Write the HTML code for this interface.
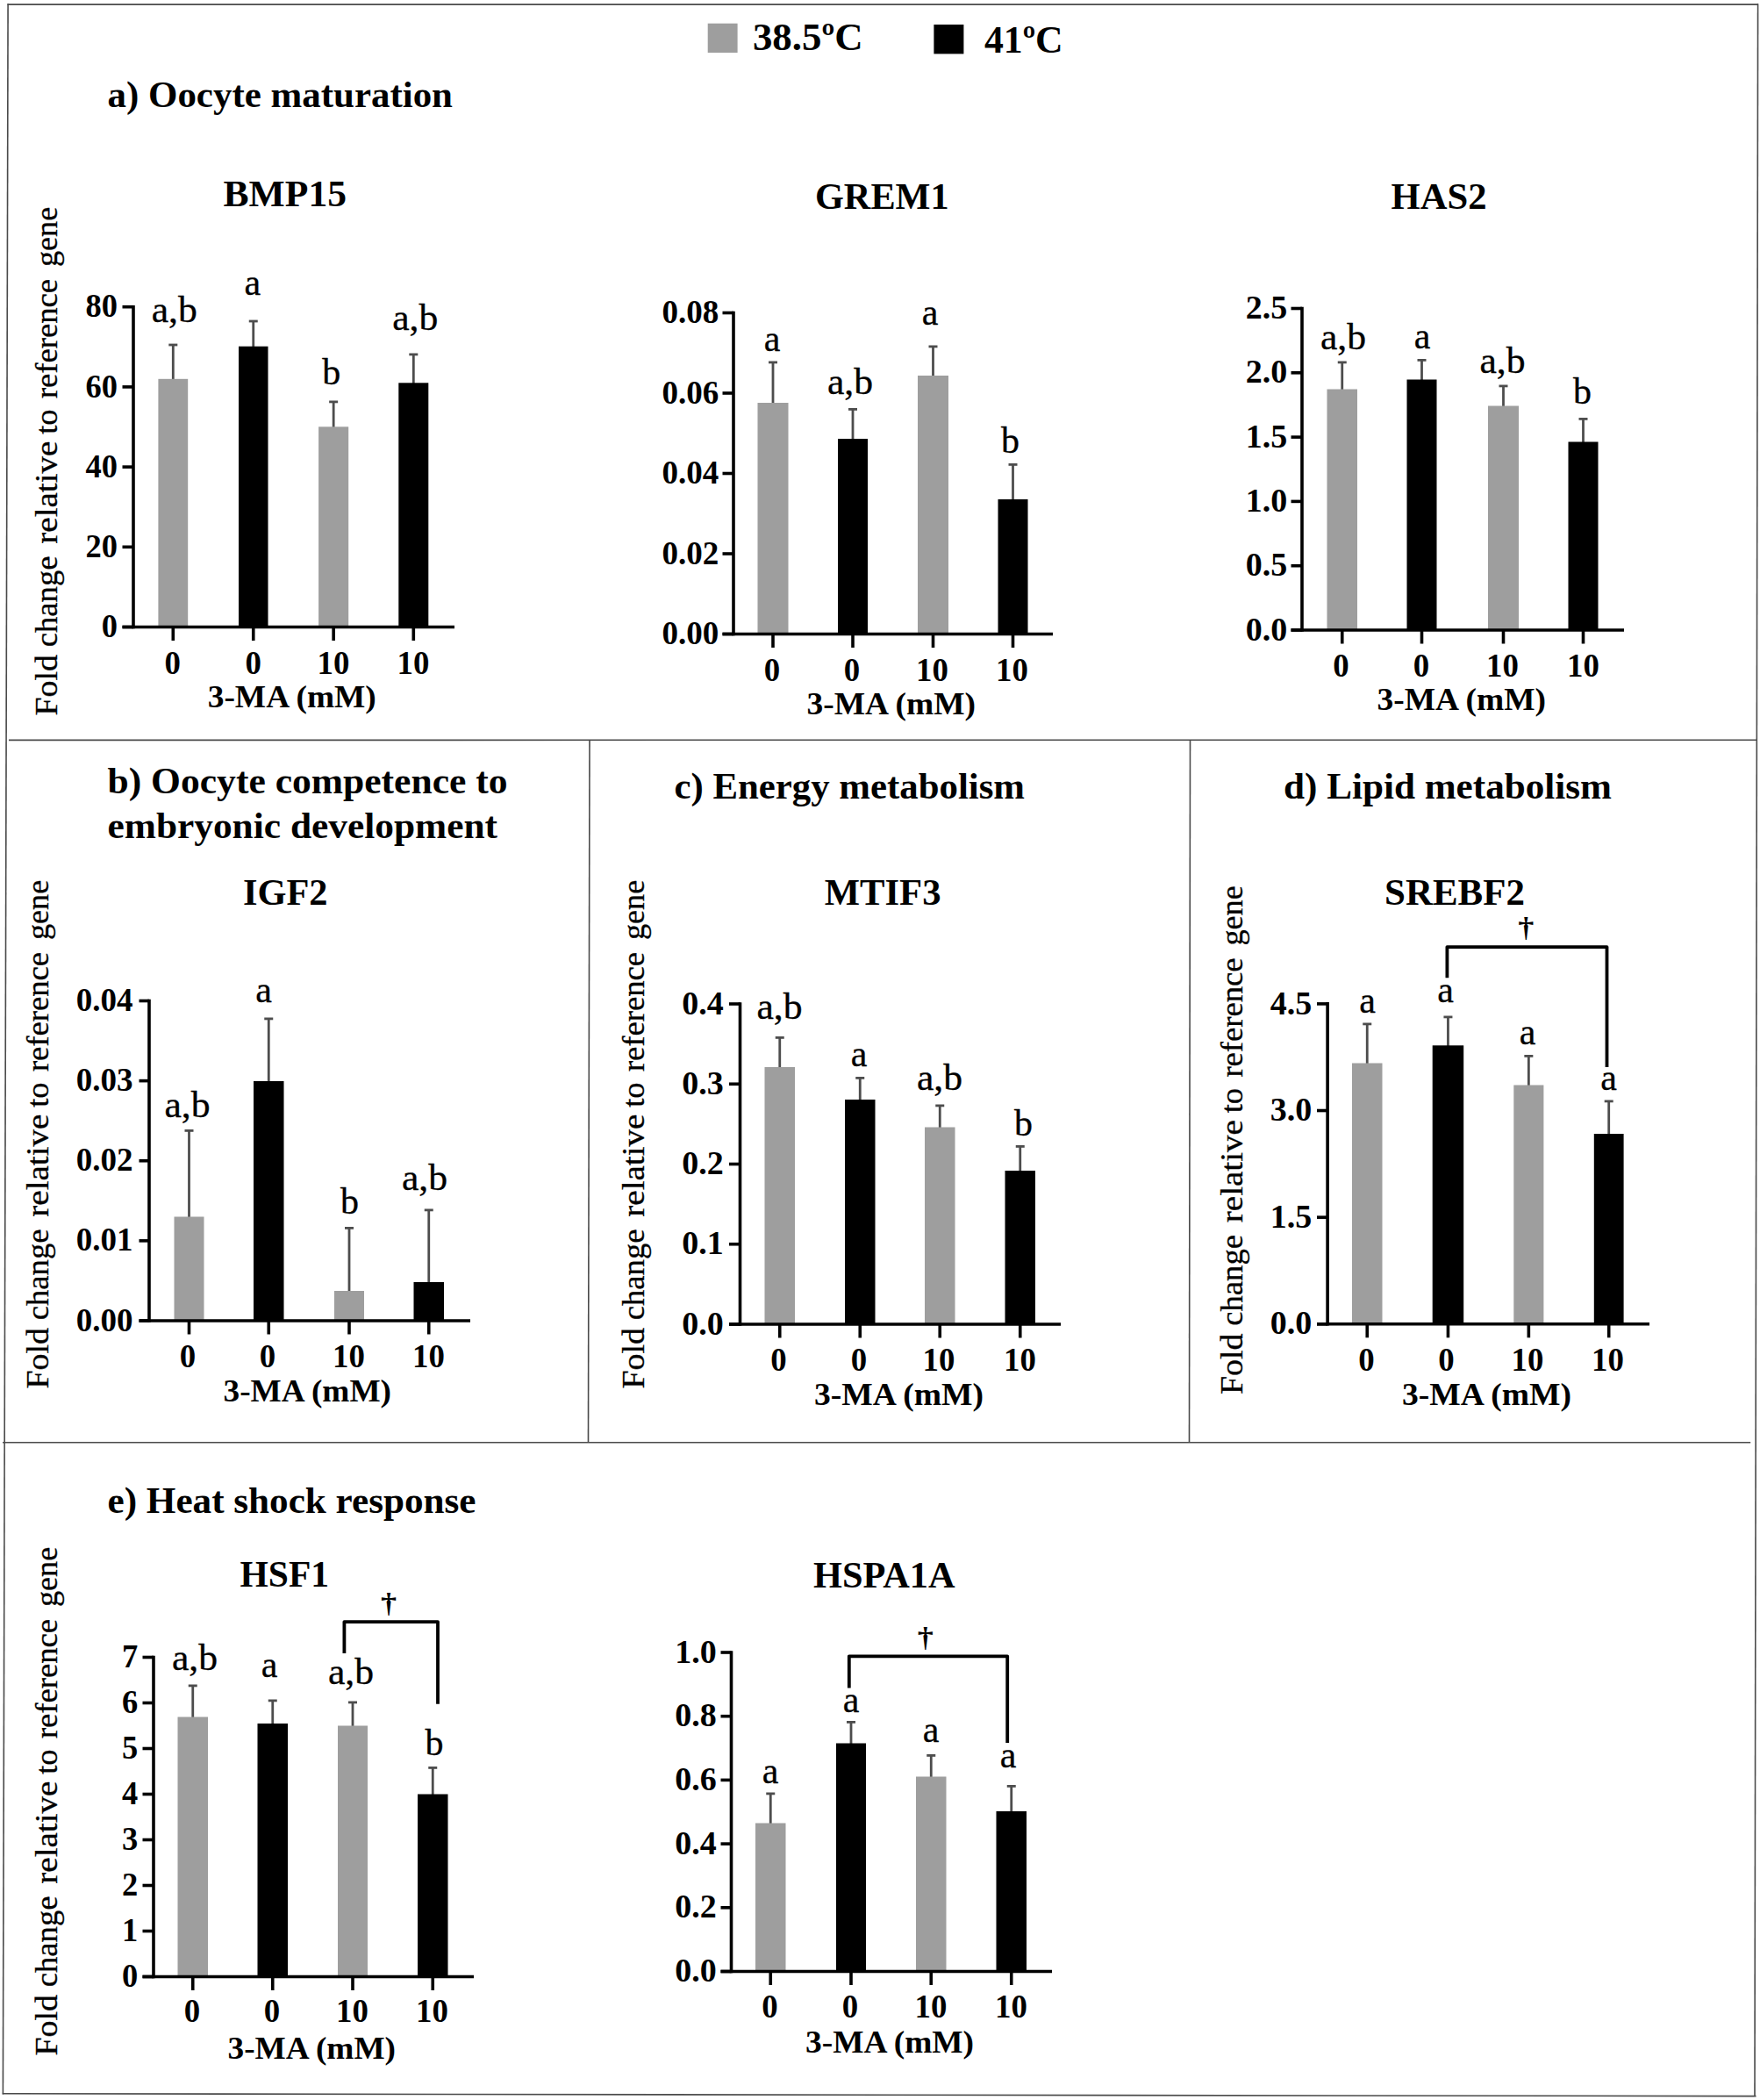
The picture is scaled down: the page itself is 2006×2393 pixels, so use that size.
<!DOCTYPE html>
<html lang="en">
<head>
<meta charset="utf-8">
<title>Gene expression: 3-MA and heat shock</title>
<style>
html,body{margin:0;padding:0;background:#fff;}
body{width:2006px;height:2393px;overflow:hidden;}
svg{display:block;}
text{font-kerning:normal;}
.r text,text.r{stroke:#000;stroke-width:0.3px;stroke-linejoin:round;}
</style>
</head>
<body>
<svg width="2006" height="2393" viewBox="0 0 2006 2393" font-family='"Liberation Serif", "DejaVu Serif", serif' fill="#000">
<rect x="0" y="0" width="2006" height="2393" fill="#fff"/>
<line x1="8.5" y1="5.1" x2="2004" y2="5.1" stroke="#4a4a4a" stroke-width="1.6" stroke-linecap="butt"/>
<line x1="9.1" y1="4.3" x2="3.4" y2="2386.6" stroke="#4a4a4a" stroke-width="1.6" stroke-linecap="butt"/>
<line x1="2003.6" y1="4.3" x2="2000" y2="2388.6" stroke="#4a4a4a" stroke-width="1.6" stroke-linecap="butt"/>
<line x1="2.8" y1="2385.8" x2="2001.5" y2="2388.6" stroke="#4a4a4a" stroke-width="1.6" stroke-linecap="butt"/>
<line x1="10" y1="843.4" x2="2002.6" y2="843.2" stroke="#4a4a4a" stroke-width="1.6" stroke-linecap="butt"/>
<line x1="3" y1="1643.75" x2="1995.2" y2="1643.75" stroke="#4a4a4a" stroke-width="1.6" stroke-linecap="butt"/>
<line x1="672" y1="843.4" x2="670.5" y2="1643.75" stroke="#4a4a4a" stroke-width="1.6" stroke-linecap="butt"/>
<line x1="1356.5" y1="843.4" x2="1355.5" y2="1643.75" stroke="#4a4a4a" stroke-width="1.6" stroke-linecap="butt"/>
<rect x="806.7" y="26.7" width="33.9" height="33.4" fill="#9e9e9e"/>
<text x="857.9" y="57.2" font-size="44" font-weight="bold" text-anchor="start" textLength="125.7" lengthAdjust="spacingAndGlyphs">38.5ºC</text>
<rect x="1064.4" y="28" width="34" height="33.4" fill="#000"/>
<text x="1121.9" y="59.8" font-size="44" font-weight="bold" text-anchor="start" textLength="89.8" lengthAdjust="spacingAndGlyphs">41ºC</text>
<text x="122.5" y="122" font-size="43" font-weight="bold" text-anchor="start" textLength="393.5" lengthAdjust="spacingAndGlyphs">a) Oocyte maturation</text>
<text x="122.5" y="904" font-size="43" font-weight="bold" text-anchor="start" textLength="456" lengthAdjust="spacingAndGlyphs">b) Oocyte competence to</text>
<text x="122.5" y="954.9" font-size="43" font-weight="bold" text-anchor="start" textLength="444.5" lengthAdjust="spacingAndGlyphs">embryonic development</text>
<text x="768.5" y="910.1" font-size="43" font-weight="bold" text-anchor="start" textLength="399.5" lengthAdjust="spacingAndGlyphs">c) Energy metabolism</text>
<text x="1463" y="910.1" font-size="43" font-weight="bold" text-anchor="start" textLength="374" lengthAdjust="spacingAndGlyphs">d) Lipid metabolism</text>
<text x="122.5" y="1723.5" font-size="43" font-weight="bold" text-anchor="start" textLength="420" lengthAdjust="spacingAndGlyphs">e) Heat shock response</text>
<text x="254.5" y="235" font-size="43" font-weight="bold" text-anchor="start" textLength="140.5" lengthAdjust="spacingAndGlyphs">BMP15</text>
<text x="929" y="238" font-size="43" font-weight="bold" text-anchor="start" textLength="152.6" lengthAdjust="spacingAndGlyphs">GREM1</text>
<text x="1585.5" y="238" font-size="43" font-weight="bold" text-anchor="start" textLength="109" lengthAdjust="spacingAndGlyphs">HAS2</text>
<text x="277" y="1031.2" font-size="43" font-weight="bold" text-anchor="start" textLength="96.5" lengthAdjust="spacingAndGlyphs">IGF2</text>
<text x="939.7" y="1031.1" font-size="43" font-weight="bold" text-anchor="start" textLength="132.8" lengthAdjust="spacingAndGlyphs">MTIF3</text>
<text x="1578" y="1031.1" font-size="43" font-weight="bold" text-anchor="start" textLength="160" lengthAdjust="spacingAndGlyphs">SREBF2</text>
<text x="273.5" y="1808" font-size="43" font-weight="bold" text-anchor="start" textLength="101.5" lengthAdjust="spacingAndGlyphs">HSF1</text>
<text x="927" y="1809" font-size="43" font-weight="bold" text-anchor="start" textLength="161.5" lengthAdjust="spacingAndGlyphs">HSPA1A</text>
<g>
<line x1="197.3" y1="392.1" x2="197.3" y2="432.8" stroke="#4d4d4d" stroke-width="2.8" stroke-linecap="butt"/>
<line x1="192.3" y1="393" x2="202.3" y2="393" stroke="#4d4d4d" stroke-width="2.8" stroke-linecap="butt"/>
<rect x="180.4" y="431.8" width="33.8" height="282.7" fill="#9e9e9e"/>
<line x1="197.3" y1="714.5" x2="197.3" y2="730" stroke="#000" stroke-width="3.6" stroke-linecap="butt"/>
<line x1="288.75" y1="365.1" x2="288.75" y2="395.7" stroke="#4d4d4d" stroke-width="2.8" stroke-linecap="butt"/>
<line x1="283.75" y1="366" x2="293.75" y2="366" stroke="#4d4d4d" stroke-width="2.8" stroke-linecap="butt"/>
<rect x="272" y="394.7" width="33.5" height="319.8" fill="#000"/>
<line x1="288.75" y1="714.5" x2="288.75" y2="730" stroke="#000" stroke-width="3.6" stroke-linecap="butt"/>
<line x1="380.15" y1="457" x2="380.15" y2="487.3" stroke="#4d4d4d" stroke-width="2.8" stroke-linecap="butt"/>
<line x1="375.15" y1="457.9" x2="385.15" y2="457.9" stroke="#4d4d4d" stroke-width="2.8" stroke-linecap="butt"/>
<rect x="363.1" y="486.3" width="34.1" height="228.2" fill="#9e9e9e"/>
<line x1="380.15" y1="714.5" x2="380.15" y2="730" stroke="#000" stroke-width="3.6" stroke-linecap="butt"/>
<line x1="471.3" y1="403" x2="471.3" y2="437.3" stroke="#4d4d4d" stroke-width="2.8" stroke-linecap="butt"/>
<line x1="466.3" y1="403.9" x2="476.3" y2="403.9" stroke="#4d4d4d" stroke-width="2.8" stroke-linecap="butt"/>
<rect x="454.3" y="436.3" width="34" height="278.2" fill="#000"/>
<line x1="471.3" y1="714.5" x2="471.3" y2="730" stroke="#000" stroke-width="3.6" stroke-linecap="butt"/>
<line x1="152" y1="347.9" x2="152" y2="716.3" stroke="#000" stroke-width="3.6" stroke-linecap="butt"/>
<line x1="139.5" y1="714.5" x2="518" y2="714.5" stroke="#000" stroke-width="3.6" stroke-linecap="butt"/>
<line x1="139.5" y1="349.7" x2="152" y2="349.7" stroke="#000" stroke-width="3.6" stroke-linecap="butt"/>
<text x="134.1" y="361.3" font-size="38" font-weight="bold" text-anchor="end" textLength="36.48" lengthAdjust="spacingAndGlyphs">80</text>
<line x1="139.5" y1="440.9" x2="152" y2="440.9" stroke="#000" stroke-width="3.6" stroke-linecap="butt"/>
<text x="134.1" y="452.5" font-size="38" font-weight="bold" text-anchor="end" textLength="36.48" lengthAdjust="spacingAndGlyphs">60</text>
<line x1="139.5" y1="532.1" x2="152" y2="532.1" stroke="#000" stroke-width="3.6" stroke-linecap="butt"/>
<text x="134.1" y="543.7" font-size="38" font-weight="bold" text-anchor="end" textLength="36.48" lengthAdjust="spacingAndGlyphs">40</text>
<line x1="139.5" y1="623.3" x2="152" y2="623.3" stroke="#000" stroke-width="3.6" stroke-linecap="butt"/>
<text x="134.1" y="634.9" font-size="38" font-weight="bold" text-anchor="end" textLength="36.48" lengthAdjust="spacingAndGlyphs">20</text>
<line x1="139.5" y1="714.5" x2="152" y2="714.5" stroke="#000" stroke-width="3.6" stroke-linecap="butt"/>
<text x="134.1" y="726.1" font-size="38" font-weight="bold" text-anchor="end" textLength="18.24" lengthAdjust="spacingAndGlyphs">0</text>
<text x="198.8" y="366.5" font-size="42" font-weight="normal" text-anchor="middle" textLength="52.15" lengthAdjust="spacingAndGlyphs" class="r">a,b</text>
<text x="287.9" y="335.6" font-size="42" font-weight="normal" text-anchor="middle" textLength="18.65" lengthAdjust="spacingAndGlyphs" class="r">a</text>
<text x="377.8" y="438.3" font-size="42" font-weight="normal" text-anchor="middle" textLength="21" lengthAdjust="spacingAndGlyphs" class="r">b</text>
<text x="473.3" y="375.7" font-size="42" font-weight="normal" text-anchor="middle" textLength="52.15" lengthAdjust="spacingAndGlyphs" class="r">a,b</text>
<text x="196.6" y="767.6" font-size="38" font-weight="bold" text-anchor="middle" textLength="18.43" lengthAdjust="spacingAndGlyphs">0</text>
<text x="288.8" y="767.6" font-size="38" font-weight="bold" text-anchor="middle" textLength="18.43" lengthAdjust="spacingAndGlyphs">0</text>
<text x="379.9" y="767.6" font-size="38" font-weight="bold" text-anchor="middle" textLength="36.86" lengthAdjust="spacingAndGlyphs">10</text>
<text x="471" y="767.6" font-size="38" font-weight="bold" text-anchor="middle" textLength="36.86" lengthAdjust="spacingAndGlyphs">10</text>
<text x="236.7" y="806.1" font-size="36.5" font-weight="bold" text-anchor="start" textLength="192.1" lengthAdjust="spacingAndGlyphs">3-MA (mM)</text>
<g class="r" transform="translate(65 815) rotate(-90)" font-size="36.4">
<text x="-0.5" y="0" textLength="69.5" lengthAdjust="spacingAndGlyphs">Fold</text>
<text x="77.8" y="0" textLength="103.7" lengthAdjust="spacingAndGlyphs">change</text>
<text x="195.3" y="0" textLength="117.1" lengthAdjust="spacingAndGlyphs">relative</text>
<text x="320.2" y="0" textLength="28.4" lengthAdjust="spacingAndGlyphs">to</text>
<text x="360.9" y="0" textLength="136.2" lengthAdjust="spacingAndGlyphs">reference</text>
<text x="510.9" y="0" textLength="68.4" lengthAdjust="spacingAndGlyphs">gene</text>
</g>
</g>
<g>
<line x1="881" y1="412" x2="881" y2="460" stroke="#4d4d4d" stroke-width="2.8" stroke-linecap="butt"/>
<line x1="876" y1="412.9" x2="886" y2="412.9" stroke="#4d4d4d" stroke-width="2.8" stroke-linecap="butt"/>
<rect x="863.5" y="459" width="35" height="263.5" fill="#9e9e9e"/>
<line x1="881" y1="722.5" x2="881" y2="738" stroke="#000" stroke-width="3.6" stroke-linecap="butt"/>
<line x1="972" y1="465.5" x2="972" y2="501" stroke="#4d4d4d" stroke-width="2.8" stroke-linecap="butt"/>
<line x1="967" y1="466.4" x2="977" y2="466.4" stroke="#4d4d4d" stroke-width="2.8" stroke-linecap="butt"/>
<rect x="955" y="500" width="34" height="222.5" fill="#000"/>
<line x1="972" y1="722.5" x2="972" y2="738" stroke="#000" stroke-width="3.6" stroke-linecap="butt"/>
<line x1="1063.5" y1="394" x2="1063.5" y2="429" stroke="#4d4d4d" stroke-width="2.8" stroke-linecap="butt"/>
<line x1="1058.5" y1="394.9" x2="1068.5" y2="394.9" stroke="#4d4d4d" stroke-width="2.8" stroke-linecap="butt"/>
<rect x="1046" y="428" width="35" height="294.5" fill="#9e9e9e"/>
<line x1="1063.5" y1="722.5" x2="1063.5" y2="738" stroke="#000" stroke-width="3.6" stroke-linecap="butt"/>
<line x1="1154.5" y1="528.5" x2="1154.5" y2="570" stroke="#4d4d4d" stroke-width="2.8" stroke-linecap="butt"/>
<line x1="1149.5" y1="529.4" x2="1159.5" y2="529.4" stroke="#4d4d4d" stroke-width="2.8" stroke-linecap="butt"/>
<rect x="1137.5" y="569" width="34" height="153.5" fill="#000"/>
<line x1="1154.5" y1="722.5" x2="1154.5" y2="738" stroke="#000" stroke-width="3.6" stroke-linecap="butt"/>
<line x1="836" y1="354.7" x2="836" y2="724.3" stroke="#000" stroke-width="3.6" stroke-linecap="butt"/>
<line x1="823.5" y1="722.5" x2="1200" y2="722.5" stroke="#000" stroke-width="3.6" stroke-linecap="butt"/>
<line x1="823.5" y1="356.5" x2="836" y2="356.5" stroke="#000" stroke-width="3.6" stroke-linecap="butt"/>
<text x="819.3" y="368.1" font-size="38" font-weight="bold" text-anchor="end" textLength="64.84" lengthAdjust="spacingAndGlyphs">0.08</text>
<line x1="823.5" y1="448" x2="836" y2="448" stroke="#000" stroke-width="3.6" stroke-linecap="butt"/>
<text x="819.3" y="459.6" font-size="38" font-weight="bold" text-anchor="end" textLength="64.84" lengthAdjust="spacingAndGlyphs">0.06</text>
<line x1="823.5" y1="539.5" x2="836" y2="539.5" stroke="#000" stroke-width="3.6" stroke-linecap="butt"/>
<text x="819.3" y="551.1" font-size="38" font-weight="bold" text-anchor="end" textLength="64.84" lengthAdjust="spacingAndGlyphs">0.04</text>
<line x1="823.5" y1="631" x2="836" y2="631" stroke="#000" stroke-width="3.6" stroke-linecap="butt"/>
<text x="819.3" y="642.6" font-size="38" font-weight="bold" text-anchor="end" textLength="64.84" lengthAdjust="spacingAndGlyphs">0.02</text>
<line x1="823.5" y1="722.5" x2="836" y2="722.5" stroke="#000" stroke-width="3.6" stroke-linecap="butt"/>
<text x="819.3" y="734.1" font-size="38" font-weight="bold" text-anchor="end" textLength="64.84" lengthAdjust="spacingAndGlyphs">0.00</text>
<text x="880" y="400" font-size="42" font-weight="normal" text-anchor="middle" textLength="18.65" lengthAdjust="spacingAndGlyphs" class="r">a</text>
<text x="969" y="448.5" font-size="42" font-weight="normal" text-anchor="middle" textLength="52.15" lengthAdjust="spacingAndGlyphs" class="r">a,b</text>
<text x="1060" y="370" font-size="42" font-weight="normal" text-anchor="middle" textLength="18.65" lengthAdjust="spacingAndGlyphs" class="r">a</text>
<text x="1151.5" y="516" font-size="42" font-weight="normal" text-anchor="middle" textLength="21" lengthAdjust="spacingAndGlyphs" class="r">b</text>
<text x="880" y="775.6" font-size="38" font-weight="bold" text-anchor="middle" textLength="18.43" lengthAdjust="spacingAndGlyphs">0</text>
<text x="971" y="775.6" font-size="38" font-weight="bold" text-anchor="middle" textLength="18.43" lengthAdjust="spacingAndGlyphs">0</text>
<text x="1062.5" y="775.6" font-size="38" font-weight="bold" text-anchor="middle" textLength="36.86" lengthAdjust="spacingAndGlyphs">10</text>
<text x="1153.5" y="775.6" font-size="38" font-weight="bold" text-anchor="middle" textLength="36.86" lengthAdjust="spacingAndGlyphs">10</text>
<text x="919.5" y="814.3" font-size="36.5" font-weight="bold" text-anchor="start" textLength="192.5" lengthAdjust="spacingAndGlyphs">3-MA (mM)</text>
</g>
<g>
<line x1="1529.75" y1="412" x2="1529.75" y2="444.5" stroke="#4d4d4d" stroke-width="2.8" stroke-linecap="butt"/>
<line x1="1524.75" y1="412.9" x2="1534.75" y2="412.9" stroke="#4d4d4d" stroke-width="2.8" stroke-linecap="butt"/>
<rect x="1512.5" y="443.5" width="34.5" height="274.5" fill="#9e9e9e"/>
<line x1="1529.75" y1="718" x2="1529.75" y2="733.5" stroke="#000" stroke-width="3.6" stroke-linecap="butt"/>
<line x1="1620.5" y1="409.5" x2="1620.5" y2="433.5" stroke="#4d4d4d" stroke-width="2.8" stroke-linecap="butt"/>
<line x1="1615.5" y1="410.4" x2="1625.5" y2="410.4" stroke="#4d4d4d" stroke-width="2.8" stroke-linecap="butt"/>
<rect x="1603.5" y="432.5" width="34" height="285.5" fill="#000"/>
<line x1="1620.5" y1="718" x2="1620.5" y2="733.5" stroke="#000" stroke-width="3.6" stroke-linecap="butt"/>
<line x1="1713.5" y1="439" x2="1713.5" y2="463.5" stroke="#4d4d4d" stroke-width="2.8" stroke-linecap="butt"/>
<line x1="1708.5" y1="439.9" x2="1718.5" y2="439.9" stroke="#4d4d4d" stroke-width="2.8" stroke-linecap="butt"/>
<rect x="1696" y="462.5" width="35" height="255.5" fill="#9e9e9e"/>
<line x1="1713.5" y1="718" x2="1713.5" y2="733.5" stroke="#000" stroke-width="3.6" stroke-linecap="butt"/>
<line x1="1804.5" y1="476.5" x2="1804.5" y2="504.5" stroke="#4d4d4d" stroke-width="2.8" stroke-linecap="butt"/>
<line x1="1799.5" y1="477.4" x2="1809.5" y2="477.4" stroke="#4d4d4d" stroke-width="2.8" stroke-linecap="butt"/>
<rect x="1787.5" y="503.5" width="34" height="214.5" fill="#000"/>
<line x1="1804.5" y1="718" x2="1804.5" y2="733.5" stroke="#000" stroke-width="3.6" stroke-linecap="butt"/>
<line x1="1484" y1="349.7" x2="1484" y2="719.8" stroke="#000" stroke-width="3.6" stroke-linecap="butt"/>
<line x1="1471.5" y1="718" x2="1851" y2="718" stroke="#000" stroke-width="3.6" stroke-linecap="butt"/>
<line x1="1471.5" y1="351.5" x2="1484" y2="351.5" stroke="#000" stroke-width="3.6" stroke-linecap="butt"/>
<text x="1467.3" y="363.1" font-size="38" font-weight="bold" text-anchor="end" textLength="47.5" lengthAdjust="spacingAndGlyphs">2.5</text>
<line x1="1471.5" y1="424.8" x2="1484" y2="424.8" stroke="#000" stroke-width="3.6" stroke-linecap="butt"/>
<text x="1467.3" y="436.4" font-size="38" font-weight="bold" text-anchor="end" textLength="47.5" lengthAdjust="spacingAndGlyphs">2.0</text>
<line x1="1471.5" y1="498.1" x2="1484" y2="498.1" stroke="#000" stroke-width="3.6" stroke-linecap="butt"/>
<text x="1467.3" y="509.7" font-size="38" font-weight="bold" text-anchor="end" textLength="47.5" lengthAdjust="spacingAndGlyphs">1.5</text>
<line x1="1471.5" y1="571.4" x2="1484" y2="571.4" stroke="#000" stroke-width="3.6" stroke-linecap="butt"/>
<text x="1467.3" y="583" font-size="38" font-weight="bold" text-anchor="end" textLength="47.5" lengthAdjust="spacingAndGlyphs">1.0</text>
<line x1="1471.5" y1="644.7" x2="1484" y2="644.7" stroke="#000" stroke-width="3.6" stroke-linecap="butt"/>
<text x="1467.3" y="656.3" font-size="38" font-weight="bold" text-anchor="end" textLength="47.5" lengthAdjust="spacingAndGlyphs">0.5</text>
<line x1="1471.5" y1="718" x2="1484" y2="718" stroke="#000" stroke-width="3.6" stroke-linecap="butt"/>
<text x="1467.3" y="729.6" font-size="38" font-weight="bold" text-anchor="end" textLength="47.5" lengthAdjust="spacingAndGlyphs">0.0</text>
<text x="1531" y="397.5" font-size="42" font-weight="normal" text-anchor="middle" textLength="52.15" lengthAdjust="spacingAndGlyphs" class="r">a,b</text>
<text x="1621" y="396.5" font-size="42" font-weight="normal" text-anchor="middle" textLength="18.65" lengthAdjust="spacingAndGlyphs" class="r">a</text>
<text x="1712.5" y="425" font-size="42" font-weight="normal" text-anchor="middle" textLength="52.15" lengthAdjust="spacingAndGlyphs" class="r">a,b</text>
<text x="1803.5" y="460" font-size="42" font-weight="normal" text-anchor="middle" textLength="21" lengthAdjust="spacingAndGlyphs" class="r">b</text>
<text x="1528.5" y="770.6" font-size="38" font-weight="bold" text-anchor="middle" textLength="18.43" lengthAdjust="spacingAndGlyphs">0</text>
<text x="1620" y="770.6" font-size="38" font-weight="bold" text-anchor="middle" textLength="18.43" lengthAdjust="spacingAndGlyphs">0</text>
<text x="1712.5" y="770.6" font-size="38" font-weight="bold" text-anchor="middle" textLength="36.86" lengthAdjust="spacingAndGlyphs">10</text>
<text x="1804.5" y="770.6" font-size="38" font-weight="bold" text-anchor="middle" textLength="36.86" lengthAdjust="spacingAndGlyphs">10</text>
<text x="1569.5" y="809.3" font-size="36.5" font-weight="bold" text-anchor="start" textLength="192.5" lengthAdjust="spacingAndGlyphs">3-MA (mM)</text>
</g>
<g>
<line x1="215.5" y1="1287.5" x2="215.5" y2="1387.5" stroke="#4d4d4d" stroke-width="2.8" stroke-linecap="butt"/>
<line x1="210.5" y1="1288.4" x2="220.5" y2="1288.4" stroke="#4d4d4d" stroke-width="2.8" stroke-linecap="butt"/>
<rect x="198.5" y="1386.5" width="34" height="118.5" fill="#9e9e9e"/>
<line x1="215.5" y1="1505" x2="215.5" y2="1520.5" stroke="#000" stroke-width="3.6" stroke-linecap="butt"/>
<line x1="306.25" y1="1160" x2="306.25" y2="1233" stroke="#4d4d4d" stroke-width="2.8" stroke-linecap="butt"/>
<line x1="301.25" y1="1160.9" x2="311.25" y2="1160.9" stroke="#4d4d4d" stroke-width="2.8" stroke-linecap="butt"/>
<rect x="289" y="1232" width="34.5" height="273" fill="#000"/>
<line x1="306.25" y1="1505" x2="306.25" y2="1520.5" stroke="#000" stroke-width="3.6" stroke-linecap="butt"/>
<line x1="398" y1="1398.5" x2="398" y2="1472" stroke="#4d4d4d" stroke-width="2.8" stroke-linecap="butt"/>
<line x1="393" y1="1399.4" x2="403" y2="1399.4" stroke="#4d4d4d" stroke-width="2.8" stroke-linecap="butt"/>
<rect x="381" y="1471" width="34" height="34" fill="#9e9e9e"/>
<line x1="398" y1="1505" x2="398" y2="1520.5" stroke="#000" stroke-width="3.6" stroke-linecap="butt"/>
<line x1="488.75" y1="1378" x2="488.75" y2="1462" stroke="#4d4d4d" stroke-width="2.8" stroke-linecap="butt"/>
<line x1="483.75" y1="1378.9" x2="493.75" y2="1378.9" stroke="#4d4d4d" stroke-width="2.8" stroke-linecap="butt"/>
<rect x="471.5" y="1461" width="34.5" height="44" fill="#000"/>
<line x1="488.75" y1="1505" x2="488.75" y2="1520.5" stroke="#000" stroke-width="3.6" stroke-linecap="butt"/>
<line x1="170" y1="1138.7" x2="170" y2="1506.8" stroke="#000" stroke-width="3.6" stroke-linecap="butt"/>
<line x1="158.5" y1="1505" x2="536" y2="1505" stroke="#000" stroke-width="3.6" stroke-linecap="butt"/>
<line x1="158.5" y1="1140.5" x2="170" y2="1140.5" stroke="#000" stroke-width="3.6" stroke-linecap="butt"/>
<text x="151.6" y="1152.1" font-size="38" font-weight="bold" text-anchor="end" textLength="64.84" lengthAdjust="spacingAndGlyphs">0.04</text>
<line x1="158.5" y1="1231.62" x2="170" y2="1231.62" stroke="#000" stroke-width="3.6" stroke-linecap="butt"/>
<text x="151.6" y="1243.22" font-size="38" font-weight="bold" text-anchor="end" textLength="64.84" lengthAdjust="spacingAndGlyphs">0.03</text>
<line x1="158.5" y1="1322.75" x2="170" y2="1322.75" stroke="#000" stroke-width="3.6" stroke-linecap="butt"/>
<text x="151.6" y="1334.35" font-size="38" font-weight="bold" text-anchor="end" textLength="64.84" lengthAdjust="spacingAndGlyphs">0.02</text>
<line x1="158.5" y1="1413.88" x2="170" y2="1413.88" stroke="#000" stroke-width="3.6" stroke-linecap="butt"/>
<text x="151.6" y="1425.47" font-size="38" font-weight="bold" text-anchor="end" textLength="64.84" lengthAdjust="spacingAndGlyphs">0.01</text>
<line x1="158.5" y1="1505" x2="170" y2="1505" stroke="#000" stroke-width="3.6" stroke-linecap="butt"/>
<text x="151.6" y="1516.6" font-size="38" font-weight="bold" text-anchor="end" textLength="64.84" lengthAdjust="spacingAndGlyphs">0.00</text>
<text x="213.5" y="1273" font-size="42" font-weight="normal" text-anchor="middle" textLength="52.15" lengthAdjust="spacingAndGlyphs" class="r">a,b</text>
<text x="300.5" y="1141.5" font-size="42" font-weight="normal" text-anchor="middle" textLength="18.65" lengthAdjust="spacingAndGlyphs" class="r">a</text>
<text x="398.5" y="1382.8" font-size="42" font-weight="normal" text-anchor="middle" textLength="21" lengthAdjust="spacingAndGlyphs" class="r">b</text>
<text x="484" y="1355.8" font-size="42" font-weight="normal" text-anchor="middle" textLength="52.15" lengthAdjust="spacingAndGlyphs" class="r">a,b</text>
<text x="214" y="1558.1" font-size="38" font-weight="bold" text-anchor="middle" textLength="18.43" lengthAdjust="spacingAndGlyphs">0</text>
<text x="305" y="1558.1" font-size="38" font-weight="bold" text-anchor="middle" textLength="18.43" lengthAdjust="spacingAndGlyphs">0</text>
<text x="397.5" y="1558.1" font-size="38" font-weight="bold" text-anchor="middle" textLength="36.86" lengthAdjust="spacingAndGlyphs">10</text>
<text x="488.5" y="1558.1" font-size="38" font-weight="bold" text-anchor="middle" textLength="36.86" lengthAdjust="spacingAndGlyphs">10</text>
<text x="254.5" y="1597.3" font-size="36.5" font-weight="bold" text-anchor="start" textLength="191.5" lengthAdjust="spacingAndGlyphs">3-MA (mM)</text>
<g class="r" transform="translate(55 1582) rotate(-90)" font-size="36.4">
<text x="-0.5" y="0" textLength="69.5" lengthAdjust="spacingAndGlyphs">Fold</text>
<text x="77.8" y="0" textLength="103.7" lengthAdjust="spacingAndGlyphs">change</text>
<text x="195.3" y="0" textLength="117.1" lengthAdjust="spacingAndGlyphs">relative</text>
<text x="320.2" y="0" textLength="28.4" lengthAdjust="spacingAndGlyphs">to</text>
<text x="360.9" y="0" textLength="136.2" lengthAdjust="spacingAndGlyphs">reference</text>
<text x="510.9" y="0" textLength="68.4" lengthAdjust="spacingAndGlyphs">gene</text>
</g>
</g>
<g>
<line x1="888.75" y1="1181.5" x2="888.75" y2="1217" stroke="#4d4d4d" stroke-width="2.8" stroke-linecap="butt"/>
<line x1="883.75" y1="1182.4" x2="893.75" y2="1182.4" stroke="#4d4d4d" stroke-width="2.8" stroke-linecap="butt"/>
<rect x="871.5" y="1216" width="34.5" height="293" fill="#9e9e9e"/>
<line x1="888.75" y1="1509" x2="888.75" y2="1524.5" stroke="#000" stroke-width="3.6" stroke-linecap="butt"/>
<line x1="980.25" y1="1227.5" x2="980.25" y2="1254" stroke="#4d4d4d" stroke-width="2.8" stroke-linecap="butt"/>
<line x1="975.25" y1="1228.4" x2="985.25" y2="1228.4" stroke="#4d4d4d" stroke-width="2.8" stroke-linecap="butt"/>
<rect x="963" y="1253" width="34.5" height="256" fill="#000"/>
<line x1="980.25" y1="1509" x2="980.25" y2="1524.5" stroke="#000" stroke-width="3.6" stroke-linecap="butt"/>
<line x1="1071.25" y1="1259" x2="1071.25" y2="1285.5" stroke="#4d4d4d" stroke-width="2.8" stroke-linecap="butt"/>
<line x1="1066.25" y1="1259.9" x2="1076.25" y2="1259.9" stroke="#4d4d4d" stroke-width="2.8" stroke-linecap="butt"/>
<rect x="1054" y="1284.5" width="34.5" height="224.5" fill="#9e9e9e"/>
<line x1="1071.25" y1="1509" x2="1071.25" y2="1524.5" stroke="#000" stroke-width="3.6" stroke-linecap="butt"/>
<line x1="1162.75" y1="1305.5" x2="1162.75" y2="1335" stroke="#4d4d4d" stroke-width="2.8" stroke-linecap="butt"/>
<line x1="1157.75" y1="1306.4" x2="1167.75" y2="1306.4" stroke="#4d4d4d" stroke-width="2.8" stroke-linecap="butt"/>
<rect x="1145.5" y="1334" width="34.5" height="175" fill="#000"/>
<line x1="1162.75" y1="1509" x2="1162.75" y2="1524.5" stroke="#000" stroke-width="3.6" stroke-linecap="butt"/>
<line x1="843.5" y1="1142.2" x2="843.5" y2="1510.8" stroke="#000" stroke-width="3.6" stroke-linecap="butt"/>
<line x1="831" y1="1509" x2="1209" y2="1509" stroke="#000" stroke-width="3.6" stroke-linecap="butt"/>
<line x1="831" y1="1144" x2="843.5" y2="1144" stroke="#000" stroke-width="3.6" stroke-linecap="butt"/>
<text x="824.8" y="1155.6" font-size="38" font-weight="bold" text-anchor="end" textLength="47.5" lengthAdjust="spacingAndGlyphs">0.4</text>
<line x1="831" y1="1235.25" x2="843.5" y2="1235.25" stroke="#000" stroke-width="3.6" stroke-linecap="butt"/>
<text x="824.8" y="1246.85" font-size="38" font-weight="bold" text-anchor="end" textLength="47.5" lengthAdjust="spacingAndGlyphs">0.3</text>
<line x1="831" y1="1326.5" x2="843.5" y2="1326.5" stroke="#000" stroke-width="3.6" stroke-linecap="butt"/>
<text x="824.8" y="1338.1" font-size="38" font-weight="bold" text-anchor="end" textLength="47.5" lengthAdjust="spacingAndGlyphs">0.2</text>
<line x1="831" y1="1417.75" x2="843.5" y2="1417.75" stroke="#000" stroke-width="3.6" stroke-linecap="butt"/>
<text x="824.8" y="1429.35" font-size="38" font-weight="bold" text-anchor="end" textLength="47.5" lengthAdjust="spacingAndGlyphs">0.1</text>
<line x1="831" y1="1509" x2="843.5" y2="1509" stroke="#000" stroke-width="3.6" stroke-linecap="butt"/>
<text x="824.8" y="1520.6" font-size="38" font-weight="bold" text-anchor="end" textLength="47.5" lengthAdjust="spacingAndGlyphs">0.0</text>
<text x="888.5" y="1161.3" font-size="42" font-weight="normal" text-anchor="middle" textLength="52.15" lengthAdjust="spacingAndGlyphs" class="r">a,b</text>
<text x="979" y="1214.8" font-size="42" font-weight="normal" text-anchor="middle" textLength="18.65" lengthAdjust="spacingAndGlyphs" class="r">a</text>
<text x="1071" y="1241.5" font-size="42" font-weight="normal" text-anchor="middle" textLength="52.15" lengthAdjust="spacingAndGlyphs" class="r">a,b</text>
<text x="1166.5" y="1294.3" font-size="42" font-weight="normal" text-anchor="middle" textLength="21" lengthAdjust="spacingAndGlyphs" class="r">b</text>
<text x="887.5" y="1562.1" font-size="38" font-weight="bold" text-anchor="middle" textLength="18.43" lengthAdjust="spacingAndGlyphs">0</text>
<text x="979" y="1562.1" font-size="38" font-weight="bold" text-anchor="middle" textLength="18.43" lengthAdjust="spacingAndGlyphs">0</text>
<text x="1070" y="1562.1" font-size="38" font-weight="bold" text-anchor="middle" textLength="36.86" lengthAdjust="spacingAndGlyphs">10</text>
<text x="1162.5" y="1562.1" font-size="38" font-weight="bold" text-anchor="middle" textLength="36.86" lengthAdjust="spacingAndGlyphs">10</text>
<text x="928" y="1600.8" font-size="36.5" font-weight="bold" text-anchor="start" textLength="193" lengthAdjust="spacingAndGlyphs">3-MA (mM)</text>
<g class="r" transform="translate(734 1582) rotate(-90)" font-size="36.4">
<text x="-0.5" y="0" textLength="69.5" lengthAdjust="spacingAndGlyphs">Fold</text>
<text x="77.8" y="0" textLength="103.7" lengthAdjust="spacingAndGlyphs">change</text>
<text x="195.3" y="0" textLength="117.1" lengthAdjust="spacingAndGlyphs">relative</text>
<text x="320.2" y="0" textLength="28.4" lengthAdjust="spacingAndGlyphs">to</text>
<text x="360.9" y="0" textLength="136.2" lengthAdjust="spacingAndGlyphs">reference</text>
<text x="510.9" y="0" textLength="68.4" lengthAdjust="spacingAndGlyphs">gene</text>
</g>
</g>
<g>
<line x1="1558.25" y1="1166" x2="1558.25" y2="1212.5" stroke="#4d4d4d" stroke-width="2.8" stroke-linecap="butt"/>
<line x1="1553.25" y1="1166.9" x2="1563.25" y2="1166.9" stroke="#4d4d4d" stroke-width="2.8" stroke-linecap="butt"/>
<rect x="1541" y="1211.5" width="34.5" height="297.3" fill="#9e9e9e"/>
<line x1="1558.25" y1="1508.8" x2="1558.25" y2="1524.3" stroke="#000" stroke-width="3.6" stroke-linecap="butt"/>
<line x1="1650.45" y1="1158" x2="1650.45" y2="1192.3" stroke="#4d4d4d" stroke-width="2.8" stroke-linecap="butt"/>
<line x1="1645.45" y1="1158.9" x2="1655.45" y2="1158.9" stroke="#4d4d4d" stroke-width="2.8" stroke-linecap="butt"/>
<rect x="1632.7" y="1191.3" width="35.5" height="317.5" fill="#000"/>
<line x1="1650.45" y1="1508.8" x2="1650.45" y2="1524.3" stroke="#000" stroke-width="3.6" stroke-linecap="butt"/>
<line x1="1742.35" y1="1202.5" x2="1742.35" y2="1237.5" stroke="#4d4d4d" stroke-width="2.8" stroke-linecap="butt"/>
<line x1="1737.35" y1="1203.4" x2="1747.35" y2="1203.4" stroke="#4d4d4d" stroke-width="2.8" stroke-linecap="butt"/>
<rect x="1725.3" y="1236.5" width="34.1" height="272.3" fill="#9e9e9e"/>
<line x1="1742.35" y1="1508.8" x2="1742.35" y2="1524.3" stroke="#000" stroke-width="3.6" stroke-linecap="butt"/>
<line x1="1833.7" y1="1254" x2="1833.7" y2="1293" stroke="#4d4d4d" stroke-width="2.8" stroke-linecap="butt"/>
<line x1="1828.7" y1="1254.9" x2="1838.7" y2="1254.9" stroke="#4d4d4d" stroke-width="2.8" stroke-linecap="butt"/>
<rect x="1816.8" y="1292" width="33.8" height="216.8" fill="#000"/>
<line x1="1833.7" y1="1508.8" x2="1833.7" y2="1524.3" stroke="#000" stroke-width="3.6" stroke-linecap="butt"/>
<line x1="1513.1" y1="1142.1" x2="1513.1" y2="1510.6" stroke="#000" stroke-width="3.6" stroke-linecap="butt"/>
<line x1="1501" y1="1508.8" x2="1880" y2="1508.8" stroke="#000" stroke-width="3.6" stroke-linecap="butt"/>
<line x1="1501" y1="1143.9" x2="1513.1" y2="1143.9" stroke="#000" stroke-width="3.6" stroke-linecap="butt"/>
<text x="1495.3" y="1155.5" font-size="38" font-weight="bold" text-anchor="end" textLength="47.5" lengthAdjust="spacingAndGlyphs">4.5</text>
<line x1="1501" y1="1265.53" x2="1513.1" y2="1265.53" stroke="#000" stroke-width="3.6" stroke-linecap="butt"/>
<text x="1495.3" y="1277.13" font-size="38" font-weight="bold" text-anchor="end" textLength="47.5" lengthAdjust="spacingAndGlyphs">3.0</text>
<line x1="1501" y1="1387.17" x2="1513.1" y2="1387.17" stroke="#000" stroke-width="3.6" stroke-linecap="butt"/>
<text x="1495.3" y="1398.77" font-size="38" font-weight="bold" text-anchor="end" textLength="47.5" lengthAdjust="spacingAndGlyphs">1.5</text>
<line x1="1501" y1="1508.8" x2="1513.1" y2="1508.8" stroke="#000" stroke-width="3.6" stroke-linecap="butt"/>
<text x="1495.3" y="1520.4" font-size="38" font-weight="bold" text-anchor="end" textLength="47.5" lengthAdjust="spacingAndGlyphs">0.0</text>
<text x="1558.5" y="1154" font-size="42" font-weight="normal" text-anchor="middle" textLength="18.65" lengthAdjust="spacingAndGlyphs" class="r">a</text>
<text x="1647.5" y="1141.5" font-size="42" font-weight="normal" text-anchor="middle" textLength="18.65" lengthAdjust="spacingAndGlyphs" class="r">a</text>
<text x="1741" y="1190" font-size="42" font-weight="normal" text-anchor="middle" textLength="18.65" lengthAdjust="spacingAndGlyphs" class="r">a</text>
<text x="1833.5" y="1241.5" font-size="42" font-weight="normal" text-anchor="middle" textLength="18.65" lengthAdjust="spacingAndGlyphs" class="r">a</text>
<text x="1557.5" y="1562.1" font-size="38" font-weight="bold" text-anchor="middle" textLength="18.43" lengthAdjust="spacingAndGlyphs">0</text>
<text x="1648.5" y="1562.1" font-size="38" font-weight="bold" text-anchor="middle" textLength="18.43" lengthAdjust="spacingAndGlyphs">0</text>
<text x="1741" y="1562.1" font-size="38" font-weight="bold" text-anchor="middle" textLength="36.86" lengthAdjust="spacingAndGlyphs">10</text>
<text x="1832.5" y="1562.1" font-size="38" font-weight="bold" text-anchor="middle" textLength="36.86" lengthAdjust="spacingAndGlyphs">10</text>
<text x="1598" y="1600.8" font-size="36.5" font-weight="bold" text-anchor="start" textLength="193" lengthAdjust="spacingAndGlyphs">3-MA (mM)</text>
<g class="r" transform="translate(1416 1588.5) rotate(-90)" font-size="36.4">
<text x="-0.5" y="0" textLength="69.5" lengthAdjust="spacingAndGlyphs">Fold</text>
<text x="77.8" y="0" textLength="103.7" lengthAdjust="spacingAndGlyphs">change</text>
<text x="195.3" y="0" textLength="117.1" lengthAdjust="spacingAndGlyphs">relative</text>
<text x="320.2" y="0" textLength="28.4" lengthAdjust="spacingAndGlyphs">to</text>
<text x="360.9" y="0" textLength="136.2" lengthAdjust="spacingAndGlyphs">reference</text>
<text x="510.9" y="0" textLength="68.4" lengthAdjust="spacingAndGlyphs">gene</text>
</g>
<path d="M1649.4 1114.3 V1079.1 H1831.5 V1216" fill="none" stroke="#000" stroke-width="3.8" stroke-linejoin="round"/>
<text x="1739.2" y="1067" font-size="30.5" font-weight="bold" text-anchor="middle" textLength="18.1" lengthAdjust="spacingAndGlyphs">†</text>
</g>
<g>
<line x1="219.75" y1="1920" x2="219.75" y2="1957.5" stroke="#4d4d4d" stroke-width="2.8" stroke-linecap="butt"/>
<line x1="214.75" y1="1920.9" x2="224.75" y2="1920.9" stroke="#4d4d4d" stroke-width="2.8" stroke-linecap="butt"/>
<rect x="202.5" y="1956.5" width="34.5" height="296" fill="#9e9e9e"/>
<line x1="219.75" y1="2252.5" x2="219.75" y2="2268" stroke="#000" stroke-width="3.6" stroke-linecap="butt"/>
<line x1="310.75" y1="1937" x2="310.75" y2="1965" stroke="#4d4d4d" stroke-width="2.8" stroke-linecap="butt"/>
<line x1="305.75" y1="1937.9" x2="315.75" y2="1937.9" stroke="#4d4d4d" stroke-width="2.8" stroke-linecap="butt"/>
<rect x="293.5" y="1964" width="34.5" height="288.5" fill="#000"/>
<line x1="310.75" y1="2252.5" x2="310.75" y2="2268" stroke="#000" stroke-width="3.6" stroke-linecap="butt"/>
<line x1="402" y1="1939" x2="402" y2="1967.5" stroke="#4d4d4d" stroke-width="2.8" stroke-linecap="butt"/>
<line x1="397" y1="1939.9" x2="407" y2="1939.9" stroke="#4d4d4d" stroke-width="2.8" stroke-linecap="butt"/>
<rect x="385" y="1966.5" width="34" height="286" fill="#9e9e9e"/>
<line x1="402" y1="2252.5" x2="402" y2="2268" stroke="#000" stroke-width="3.6" stroke-linecap="butt"/>
<line x1="493.25" y1="2013.5" x2="493.25" y2="2045.5" stroke="#4d4d4d" stroke-width="2.8" stroke-linecap="butt"/>
<line x1="488.25" y1="2014.4" x2="498.25" y2="2014.4" stroke="#4d4d4d" stroke-width="2.8" stroke-linecap="butt"/>
<rect x="476" y="2044.5" width="34.5" height="208" fill="#000"/>
<line x1="493.25" y1="2252.5" x2="493.25" y2="2268" stroke="#000" stroke-width="3.6" stroke-linecap="butt"/>
<line x1="175" y1="1886.7" x2="175" y2="2254.3" stroke="#000" stroke-width="3.6" stroke-linecap="butt"/>
<line x1="162.5" y1="2252.5" x2="540" y2="2252.5" stroke="#000" stroke-width="3.6" stroke-linecap="butt"/>
<line x1="162.5" y1="1888.5" x2="175" y2="1888.5" stroke="#000" stroke-width="3.6" stroke-linecap="butt"/>
<text x="157.3" y="1900.1" font-size="38" font-weight="bold" text-anchor="end" textLength="18.24" lengthAdjust="spacingAndGlyphs">7</text>
<line x1="162.5" y1="1940.5" x2="175" y2="1940.5" stroke="#000" stroke-width="3.6" stroke-linecap="butt"/>
<text x="157.3" y="1952.1" font-size="38" font-weight="bold" text-anchor="end" textLength="18.24" lengthAdjust="spacingAndGlyphs">6</text>
<line x1="162.5" y1="1992.5" x2="175" y2="1992.5" stroke="#000" stroke-width="3.6" stroke-linecap="butt"/>
<text x="157.3" y="2004.1" font-size="38" font-weight="bold" text-anchor="end" textLength="18.24" lengthAdjust="spacingAndGlyphs">5</text>
<line x1="162.5" y1="2044.5" x2="175" y2="2044.5" stroke="#000" stroke-width="3.6" stroke-linecap="butt"/>
<text x="157.3" y="2056.1" font-size="38" font-weight="bold" text-anchor="end" textLength="18.24" lengthAdjust="spacingAndGlyphs">4</text>
<line x1="162.5" y1="2096.5" x2="175" y2="2096.5" stroke="#000" stroke-width="3.6" stroke-linecap="butt"/>
<text x="157.3" y="2108.1" font-size="38" font-weight="bold" text-anchor="end" textLength="18.24" lengthAdjust="spacingAndGlyphs">3</text>
<line x1="162.5" y1="2148.5" x2="175" y2="2148.5" stroke="#000" stroke-width="3.6" stroke-linecap="butt"/>
<text x="157.3" y="2160.1" font-size="38" font-weight="bold" text-anchor="end" textLength="18.24" lengthAdjust="spacingAndGlyphs">2</text>
<line x1="162.5" y1="2200.5" x2="175" y2="2200.5" stroke="#000" stroke-width="3.6" stroke-linecap="butt"/>
<text x="157.3" y="2212.1" font-size="38" font-weight="bold" text-anchor="end" textLength="18.24" lengthAdjust="spacingAndGlyphs">1</text>
<line x1="162.5" y1="2252.5" x2="175" y2="2252.5" stroke="#000" stroke-width="3.6" stroke-linecap="butt"/>
<text x="157.3" y="2264.1" font-size="38" font-weight="bold" text-anchor="end" textLength="18.24" lengthAdjust="spacingAndGlyphs">0</text>
<text x="222" y="1902.5" font-size="42" font-weight="normal" text-anchor="middle" textLength="52.15" lengthAdjust="spacingAndGlyphs" class="r">a,b</text>
<text x="307" y="1911" font-size="42" font-weight="normal" text-anchor="middle" textLength="18.65" lengthAdjust="spacingAndGlyphs" class="r">a</text>
<text x="400" y="1919" font-size="42" font-weight="normal" text-anchor="middle" textLength="52.15" lengthAdjust="spacingAndGlyphs" class="r">a,b</text>
<text x="495" y="2000" font-size="42" font-weight="normal" text-anchor="middle" textLength="21" lengthAdjust="spacingAndGlyphs" class="r">b</text>
<text x="218.9" y="2304.4" font-size="38" font-weight="bold" text-anchor="middle" textLength="18.43" lengthAdjust="spacingAndGlyphs">0</text>
<text x="310" y="2304.4" font-size="38" font-weight="bold" text-anchor="middle" textLength="18.43" lengthAdjust="spacingAndGlyphs">0</text>
<text x="401.5" y="2304.4" font-size="38" font-weight="bold" text-anchor="middle" textLength="36.86" lengthAdjust="spacingAndGlyphs">10</text>
<text x="492.5" y="2304.4" font-size="38" font-weight="bold" text-anchor="middle" textLength="36.86" lengthAdjust="spacingAndGlyphs">10</text>
<text x="259.5" y="2345.8" font-size="36.5" font-weight="bold" text-anchor="start" textLength="191.5" lengthAdjust="spacingAndGlyphs">3-MA (mM)</text>
<g class="r" transform="translate(65 2342) rotate(-90)" font-size="36.4">
<text x="-0.5" y="0" textLength="69.5" lengthAdjust="spacingAndGlyphs">Fold</text>
<text x="77.8" y="0" textLength="103.7" lengthAdjust="spacingAndGlyphs">change</text>
<text x="195.3" y="0" textLength="117.1" lengthAdjust="spacingAndGlyphs">relative</text>
<text x="320.2" y="0" textLength="28.4" lengthAdjust="spacingAndGlyphs">to</text>
<text x="360.9" y="0" textLength="136.2" lengthAdjust="spacingAndGlyphs">reference</text>
<text x="510.9" y="0" textLength="68.4" lengthAdjust="spacingAndGlyphs">gene</text>
</g>
<path d="M392.4 1884.1 V1848.1 H499 V1941.8" fill="none" stroke="#000" stroke-width="3.8" stroke-linejoin="round"/>
<text x="443" y="1836.5" font-size="30.5" font-weight="bold" text-anchor="middle" textLength="18.1" lengthAdjust="spacingAndGlyphs">†</text>
</g>
<g>
<line x1="878.25" y1="2043" x2="878.25" y2="2078.5" stroke="#4d4d4d" stroke-width="2.8" stroke-linecap="butt"/>
<line x1="873.25" y1="2043.9" x2="883.25" y2="2043.9" stroke="#4d4d4d" stroke-width="2.8" stroke-linecap="butt"/>
<rect x="861" y="2077.5" width="34.5" height="169" fill="#9e9e9e"/>
<line x1="878.25" y1="2246.5" x2="878.25" y2="2262" stroke="#000" stroke-width="3.6" stroke-linecap="butt"/>
<line x1="970" y1="1961.5" x2="970" y2="1987.5" stroke="#4d4d4d" stroke-width="2.8" stroke-linecap="butt"/>
<line x1="965" y1="1962.4" x2="975" y2="1962.4" stroke="#4d4d4d" stroke-width="2.8" stroke-linecap="butt"/>
<rect x="953" y="1986.5" width="34" height="260" fill="#000"/>
<line x1="970" y1="2246.5" x2="970" y2="2262" stroke="#000" stroke-width="3.6" stroke-linecap="butt"/>
<line x1="1061.25" y1="1999.5" x2="1061.25" y2="2025.5" stroke="#4d4d4d" stroke-width="2.8" stroke-linecap="butt"/>
<line x1="1056.25" y1="2000.4" x2="1066.25" y2="2000.4" stroke="#4d4d4d" stroke-width="2.8" stroke-linecap="butt"/>
<rect x="1044" y="2024.5" width="34.5" height="222" fill="#9e9e9e"/>
<line x1="1061.25" y1="2246.5" x2="1061.25" y2="2262" stroke="#000" stroke-width="3.6" stroke-linecap="butt"/>
<line x1="1152.75" y1="2034.5" x2="1152.75" y2="2065" stroke="#4d4d4d" stroke-width="2.8" stroke-linecap="butt"/>
<line x1="1147.75" y1="2035.4" x2="1157.75" y2="2035.4" stroke="#4d4d4d" stroke-width="2.8" stroke-linecap="butt"/>
<rect x="1135.5" y="2064" width="34.5" height="182.5" fill="#000"/>
<line x1="1152.75" y1="2246.5" x2="1152.75" y2="2262" stroke="#000" stroke-width="3.6" stroke-linecap="butt"/>
<line x1="833.5" y1="1881.2" x2="833.5" y2="2248.3" stroke="#000" stroke-width="3.6" stroke-linecap="butt"/>
<line x1="821.5" y1="2246.5" x2="1199" y2="2246.5" stroke="#000" stroke-width="3.6" stroke-linecap="butt"/>
<line x1="821.5" y1="1883" x2="833.5" y2="1883" stroke="#000" stroke-width="3.6" stroke-linecap="butt"/>
<text x="816.8" y="1894.6" font-size="38" font-weight="bold" text-anchor="end" textLength="47.5" lengthAdjust="spacingAndGlyphs">1.0</text>
<line x1="821.5" y1="1955.7" x2="833.5" y2="1955.7" stroke="#000" stroke-width="3.6" stroke-linecap="butt"/>
<text x="816.8" y="1967.3" font-size="38" font-weight="bold" text-anchor="end" textLength="47.5" lengthAdjust="spacingAndGlyphs">0.8</text>
<line x1="821.5" y1="2028.4" x2="833.5" y2="2028.4" stroke="#000" stroke-width="3.6" stroke-linecap="butt"/>
<text x="816.8" y="2040" font-size="38" font-weight="bold" text-anchor="end" textLength="47.5" lengthAdjust="spacingAndGlyphs">0.6</text>
<line x1="821.5" y1="2101.1" x2="833.5" y2="2101.1" stroke="#000" stroke-width="3.6" stroke-linecap="butt"/>
<text x="816.8" y="2112.7" font-size="38" font-weight="bold" text-anchor="end" textLength="47.5" lengthAdjust="spacingAndGlyphs">0.4</text>
<line x1="821.5" y1="2173.8" x2="833.5" y2="2173.8" stroke="#000" stroke-width="3.6" stroke-linecap="butt"/>
<text x="816.8" y="2185.4" font-size="38" font-weight="bold" text-anchor="end" textLength="47.5" lengthAdjust="spacingAndGlyphs">0.2</text>
<line x1="821.5" y1="2246.5" x2="833.5" y2="2246.5" stroke="#000" stroke-width="3.6" stroke-linecap="butt"/>
<text x="816.8" y="2258.1" font-size="38" font-weight="bold" text-anchor="end" textLength="47.5" lengthAdjust="spacingAndGlyphs">0.0</text>
<text x="878" y="2031.5" font-size="42" font-weight="normal" text-anchor="middle" textLength="18.65" lengthAdjust="spacingAndGlyphs" class="r">a</text>
<text x="970" y="1951" font-size="42" font-weight="normal" text-anchor="middle" textLength="18.65" lengthAdjust="spacingAndGlyphs" class="r">a</text>
<text x="1061" y="1985" font-size="42" font-weight="normal" text-anchor="middle" textLength="18.65" lengthAdjust="spacingAndGlyphs" class="r">a</text>
<text x="1149" y="2013.5" font-size="42" font-weight="normal" text-anchor="middle" textLength="18.65" lengthAdjust="spacingAndGlyphs" class="r">a</text>
<text x="877.5" y="2298.9" font-size="38" font-weight="bold" text-anchor="middle" textLength="18.43" lengthAdjust="spacingAndGlyphs">0</text>
<text x="969" y="2298.9" font-size="38" font-weight="bold" text-anchor="middle" textLength="18.43" lengthAdjust="spacingAndGlyphs">0</text>
<text x="1061" y="2298.9" font-size="38" font-weight="bold" text-anchor="middle" textLength="36.86" lengthAdjust="spacingAndGlyphs">10</text>
<text x="1152.5" y="2298.9" font-size="38" font-weight="bold" text-anchor="middle" textLength="36.86" lengthAdjust="spacingAndGlyphs">10</text>
<text x="918" y="2339.3" font-size="36.5" font-weight="bold" text-anchor="start" textLength="192" lengthAdjust="spacingAndGlyphs">3-MA (mM)</text>
<path d="M967.8 1923.4 V1887.3 H1148.2 V1986.1" fill="none" stroke="#000" stroke-width="3.8" stroke-linejoin="round"/>
<text x="1054.9" y="1875.6" font-size="30.5" font-weight="bold" text-anchor="middle" textLength="18.1" lengthAdjust="spacingAndGlyphs">†</text>
</g>
</svg>
</body>
</html>
